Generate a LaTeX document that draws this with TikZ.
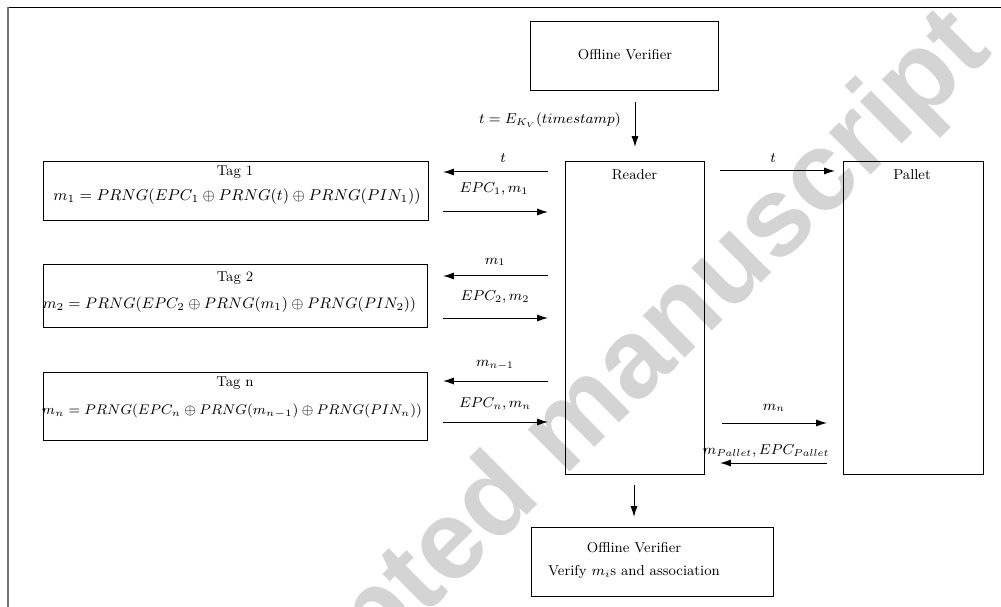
\RequirePackage{fix-cm}
\documentclass[tikz,border=0pt]{standalone}
\usepackage{fontspec}
\newfontfamily\wmfont{Liberation Sans}
\usetikzlibrary{arrows.meta}
\begin{document}
\begin{tikzpicture}[x=0.6pt,y=-0.6pt,
  box/.style={draw, line width=0.6pt, inner sep=0pt},
  txt/.style={font=\fontsize{8.6}{10}\selectfont, inner sep=0pt},
  mth/.style={font=\fontsize{8.6}{10}\selectfont, inner sep=0pt},
  arr/.style={line width=0.6pt, -{Latex[length=6.5pt,width=4.2pt]}},
  wm/.style={rotate=44.7, text=black!17, font=\wmfont\bfseries\fontsize{67.2}{67.2}\selectfont, inner sep=0pt}]
\useasboundingbox (0,0) rectangle (1001,607);
% watermark
\node[wm] (wmark) at (569,433) {Accepted manuscript};
% frame
\draw[line width=0.6pt] (8,7.5) -- (1001,7.5);
\draw[black!55, line width=1.2pt] (8,7) -- (8,607);
% boxes
\node[box, minimum width=112.8pt, minimum height=41.4pt] (ov1) at (624,56.5) {};
\node[txt] (ov1t) at (625,55) {Offline Verifier};
\node[box, minimum width=83.4pt, minimum height=187.2pt] (reader) at (634.5,318) {};
\node[txt] (readert) at (634.5,175) {Reader};
\node[box, minimum width=84pt, minimum height=187.2pt] (pallet) at (913,318) {};
\node[txt] (pallett) at (912,175) {Pallet};
\node[box, minimum width=231pt, minimum height=35.4pt] (tag1) at (235.5,191.5) {};
\node[txt] (tag1t) at (235,172) {Tag 1};
\node[mth, font=\fontsize{9.4}{11}\selectfont] (tag1f) at (237,197) {$m_1 = PRNG(EPC_1 \oplus PRNG(t) \oplus PRNG(PIN_1))$};
\node[box, minimum width=230.4pt, minimum height=37.2pt] (tag2) at (235,296) {};
\node[txt] (tag2t) at (235,278) {Tag 2};
\node[mth, font=\fontsize{9.15}{11}\selectfont] (tag2f) at (229.5,305) {$m_2 = PRNG(EPC_2 \oplus PRNG(m_1) \oplus PRNG(PIN_2))$};
\node[box, minimum width=230.4pt, minimum height=40.8pt] (tagn) at (235,406) {};
\node[txt] (tagnt) at (235,383) {Tag n};
\node[mth, font=\fontsize{8.4}{10}\selectfont] (tagnf) at (232,411) {$m_n = PRNG(EPC_n \oplus PRNG(m_{n-1}) \oplus PRNG(PIN_n))$};
\node[box, minimum width=145.2pt, minimum height=41.4pt] (ov2) at (652,561.5) {};
\node[txt] (ov2a) at (634,548) {Offline Verifier};
\node[txt] (ov2b) at (634,572) {Verify $m_i$s and association};
% arrow end points
\coordinate (a1s) at (635,102); \coordinate (a1e) at (635,147);
\coordinate (a2s) at (634,485); \coordinate (a2e) at (634,517);
\coordinate (l1s) at (548,172); \coordinate (l1e) at (443,172);
\coordinate (r1s) at (443,212); \coordinate (r1e) at (548,212);
\coordinate (l2s) at (548,276); \coordinate (l2e) at (443,276);
\coordinate (r2s) at (443,318); \coordinate (r2e) at (548,318);
\coordinate (l3s) at (548,381); \coordinate (l3e) at (443,381);
\coordinate (r3s) at (443,422); \coordinate (r3e) at (548,422);
\coordinate (p1s) at (720,171); \coordinate (p1e) at (835,171);
\coordinate (p2s) at (722,423); \coordinate (p2e) at (827,423);
\coordinate (p3s) at (827,463); \coordinate (p3e) at (720,463);
% arrows
\draw[arr] (a1s) -- (a1e);
\draw[arr] (a2s) -- (a2e);
\draw[arr] (l1s) -- (l1e);
\draw[arr] (r1s) -- (r1e);
\draw[arr] (l2s) -- (l2e);
\draw[arr] (r2s) -- (r2e);
\draw[arr] (l3s) -- (l3e);
\draw[arr] (r3s) -- (r3e);
\draw[arr] (p1s) -- (p1e);
\draw[arr] (p2s) -- (p2e);
\draw[arr] (p3s) -- (p3e);
% labels
\node[mth] (la1) at (550,120) {$t = E_{K_V}(timestamp)$};
\node[mth] (ll1) at (503,158) {$t$};
\node[mth] (lr1) at (494,189) {$EPC_1, m_1$};
\node[mth] (ll2) at (495,262) {$m_1$};
\node[mth] (lr2) at (495,297) {$EPC_2, m_2$};
\node[mth] (ll3) at (495,365) {$m_{n-1}$};
\node[mth] (lr3) at (495,404) {$EPC_n, m_n$};
\node[mth] (lp1) at (773,158) {$t$};
\node[mth] (lp2) at (774,408) {$m_n$};
\node[mth] (lp3) at (766,451) {$m_{Pallet}, EPC_{Pallet}$};
\end{tikzpicture}
\end{document}
